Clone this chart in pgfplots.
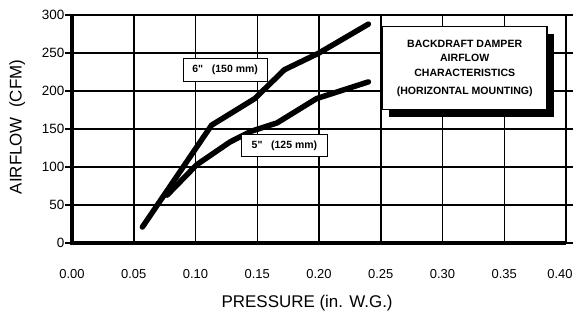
\documentclass[border=0pt]{standalone}
\usepackage{fontspec}
\setmainfont{Liberation Sans}[Ligatures=TeXOff]
\usepackage{pgfplots}
\pgfplotsset{compat=1.18}
\usetikzlibrary{shadows}
\begin{document}
\begin{tikzpicture}
\useasboundingbox (0,0) rectangle (574bp,318bp);
\begin{axis}[
  at={(72bp,75bp)}, anchor=south west,
  scale only axis, width=494bp, height=228bp,
  xmin=0, xmax=0.4, ymin=0, ymax=300,
  xtick={0,0.05,0.1,0.15,0.2,0.25,0.3,0.35,0.4}, ytick={0,50,100,150,200,250,300},
  xticklabels={0.00,0.05,0.10,0.15,0.20,0.25,0.30,0.35,\hspace*{-12bp}0.40},
  grid=major,
  major grid style={black, line width=1.5bp},
  axis line style={black, line width=1.5bp},
  tick align=outside,
  xtick style={draw=none},
  ytick style={black, line width=1.5bp},
  major tick length=7bp,
  /pgf/number format/assume math mode=true,
  xticklabel style={font=\fontsize{13}{15}\selectfont, anchor=north, yshift=-16bp},
  yticklabel style={font=\fontsize{13.5}{15}\selectfont, inner sep=0.5bp},
  xlabel={PRESSURE (in. W.G.)},
  ylabel={AIRFLOW\ \ (CFM)},
  label style={font=\fontsize{17}{19}\selectfont},
  xlabel style={at={(axis description cs:0.476,-0.263)}, anchor=center},
  ylabel style={at={(axis description cs:-0.111,0.509)}, anchor=center},
  clip=false,
]
\draw[black, line width=4bp] (rel axis cs:0,1) -- (rel axis cs:0,0) -- (rel axis cs:1,0);
\addplot[black, line width=5.5bp, line cap=round, line join=round] coordinates {
  (0.057,21) (0.113,155) (0.148,190) (0.172,228) (0.200,250) (0.240,288)};
\addplot[black, line width=5.5bp, line cap=round, line join=round] coordinates {
  (0.077,63) (0.101,103) (0.128,133) (0.145,147) (0.166,158) (0.198,190) (0.240,212)};
\node[draw=black, line width=1.2bp, fill=white, font=\bfseries\fontsize{10.5}{12}\selectfont,
  minimum width=84bp, minimum height=23bp, inner sep=1bp] at (axis cs:0.124,228) {6"\ \ \ (150 mm)};
\node[draw=black, line width=1.2bp, fill=white, font=\bfseries\fontsize{10.5}{12}\selectfont,
  minimum width=86bp, minimum height=22bp, inner sep=1bp] at (axis cs:0.172,128) {5"\ \ \ (125 mm)};
\node[draw=black, line width=1.5bp, fill=white, align=center,
  font=\bfseries\fontsize{10.6}{14.5}\selectfont,
  minimum width=165bp, minimum height=83bp, inner sep=1bp,
  drop shadow={shadow xshift=7bp, shadow yshift=-7bp, fill=black, opacity=1}]
  at (axis cs:0.318,230) {BACKDRAFT DAMPER\\AIRFLOW\\CHARACTERISTICS\\[4bp](HORIZONTAL MOUNTING)};
\end{axis}
\end{tikzpicture}
\end{document}
